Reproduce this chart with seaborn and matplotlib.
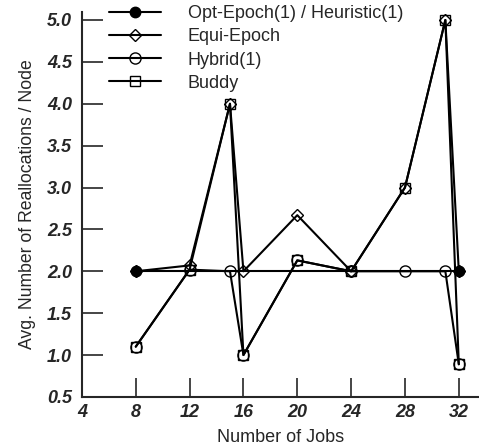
import matplotlib
matplotlib.use("Agg")
import matplotlib.pyplot as plt
import seaborn as sns
import pandas as pd

# Data
opt_x = [8, 32]
opt_y = [2.0, 2.0]
equi_x = [8, 12, 15, 16, 20, 24, 28, 31, 32]
equi_y = [2.0, 2.07, 4.0, 2.0, 2.67, 2.0, 3.0, 5.0, 2.0]
hybrid_x = [8, 12, 15, 16, 20, 24, 28, 31, 32]
hybrid_y = [1.1, 2.02, 2.0, 1.0, 2.13, 2.0, 2.0, 2.0, 0.89]
buddy_x = [8, 12, 15, 16, 20, 24, 28, 31, 32]
buddy_y = [1.1, 2.02, 4.0, 1.0, 2.13, 2.0, 3.0, 5.0, 0.89]

labels = ["Opt-Epoch(1) / Heuristic(1)", "Equi-Epoch", "Hybrid(1)", "Buddy"]
xticks = [4, 8, 12, 16, 20, 24, 28, 32]
yticks = [0.5, 1.0, 1.5, 2.0, 2.5, 3.0, 3.5, 4.0, 4.5, 5.0]

sns.set_style("ticks")
plt.rcParams["font.family"] = ["Liberation Sans", "DejaVu Sans"]

fig = plt.figure(figsize=(4.79, 4.47), dpi=100)
ax = fig.add_axes([0.171, 0.112, 0.829, 0.862])

series = [
    (opt_x, opt_y, labels[0], "o", "black", 7.5),
    (equi_x, equi_y, labels[1], "D", "none", 6),
    (hybrid_x, hybrid_y, labels[2], "o", "none", 8),
    (buddy_x, buddy_y, labels[3], "s", "none", 7.5),
]
draw_order = [1, 3, 2, 0]
handles = {}
for i in draw_order:
    x, y, lab, m, fc, ms = series[i]
    df = pd.DataFrame({"x": x, "y": y})
    sns.lineplot(data=df, x="x", y="y", ax=ax, color="black", lw=1.5,
                 marker=m, markersize=ms, markerfacecolor=fc,
                 markeredgecolor="black", markeredgewidth=1.0, label=lab,
                 legend=False)
    handles[i] = ax.lines[-1]

ax.set_xlim(4, 33.5)
ax.set_ylim(0.5, 5.1)
ax.set_xticks(xticks)
ax.set_yticks(yticks)
ax.set_xticklabels([str(t) for t in xticks], fontsize=13, fontweight="bold",
                   fontstyle="italic")
ax.set_yticklabels([f"{t:.1f}" for t in yticks], fontsize=13, fontweight="bold",
                   fontstyle="italic")
ax.tick_params(axis="x", direction="in", length=14, width=1.2, pad=5)
ax.tick_params(axis="y", direction="in", length=15, width=1.2, pad=7)
for s in ["top", "right"]:
    ax.spines[s].set_visible(False)
for s in ["left", "bottom"]:
    ax.spines[s].set_linewidth(1.5)

ax.set_xlabel("Number of Jobs", fontsize=13, labelpad=6)
ax.set_ylabel("Avg. Number of Reallocations / Node", fontsize=12.7, labelpad=8)

leg = ax.legend([handles[i] for i in range(4)], labels, loc="upper left",
                bbox_to_anchor=(0.05, 1.035), frameon=False, fontsize=13,
                handlelength=2.9, handletextpad=1.45, labelspacing=0.34,
                borderaxespad=0)

fig.savefig("out.png", dpi=100)
